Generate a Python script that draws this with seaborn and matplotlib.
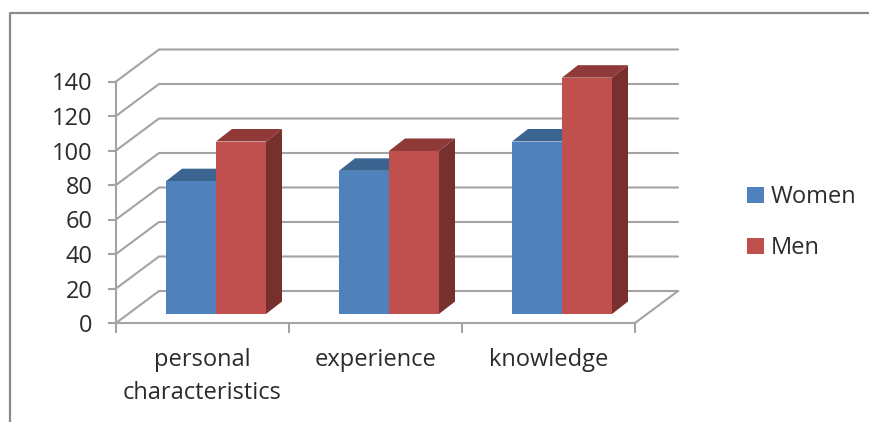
import matplotlib
matplotlib.use("Agg")
import matplotlib.pyplot as plt
from matplotlib.lines import Line2D
import pandas as pd
import seaborn as sns

categories = ["personal\ncharacteristics", "experience", "knowledge"]
women = [77, 83, 100]
men = [100, 94.5, 137]
series_names = ["Women", "Men"]
y_ticks = [0, 20, 40, 60, 80, 100, 120, 140]

W, H = 869, 422
FRONT_COL = {"Women": "#4F81BD", "Men": "#C0504D"}
TOP_COL = {"Women": "#3C6491", "Men": "#8F3A38"}
SIDE_COL = {"Women": "#2F4F75", "Men": "#78302E"}
GRID = "#a3a3a3"
TXT = "#2b2b2b"

sns.set_theme(style="white")
plt.rcParams["font.family"] = ["Open Sans", "DejaVu Sans"]
FS = 17

df = pd.DataFrame({
    "category": categories * 2,
    "value": women + men,
    "series": ["Women"] * 3 + ["Men"] * 3,
})

fig = plt.figure(figsize=(W / 100, H / 100), dpi=100, facecolor="white")
ax = fig.add_axes([116 / W, (H - 323) / H, 519 / W, 241.5 / H])

sns.barplot(data=df, x="category", y="value", hue="series", hue_order=series_names,
            palette=FRONT_COL, width=100 / 173, gap=0, saturation=1, errorbar=None,
            ax=ax, linewidth=0, legend=True)

ax.set_xlim(-0.5, 2.5)
ax.set_ylim(0, 140)
ux = 1 / 173            # data units per pixel, x
uy = 140 / 241.5        # data units per pixel, y

# walls and floor of the 3D box
wall_dx, wall_dy = 43 * ux, 32 * uy
x0, x1 = ax.get_xlim()
for v in y_ticks:
    ax.plot([x0, x0 + wall_dx, x1 + wall_dx], [v, v + wall_dy, v + wall_dy],
            color=GRID, lw=1.5, clip_on=False, zorder=1, solid_joinstyle="miter")
ax.plot([x1, x1 + wall_dx], [0, wall_dy], color=GRID, lw=1.5, clip_on=False, zorder=1)

# bars: move fronts to mid-depth, add top and side faces
base_dx, base_dy = 13.5 * ux, 9 * uy
bar_dx, bar_dy = 16 * ux, 12.5 * uy
for z, (name, container) in enumerate(zip(series_names, ax.containers)):
    for patch in container:
        patch.set_x(patch.get_x() + base_dx)
        patch.set_y(base_dy)
        patch.set_clip_on(False)
        patch.set_zorder(3 + z)
        l, r = patch.get_x(), patch.get_x() + patch.get_width()
        b, t = base_dy, base_dy + patch.get_height()
        ax.fill([l, l + bar_dx, r + bar_dx, r], [t, t + bar_dy, t + bar_dy, t],
                color=TOP_COL[name], lw=0, clip_on=False, zorder=2 + z)
        ax.fill([r, r + bar_dx, r + bar_dx, r], [b, b + bar_dy, t + bar_dy, t],
                color=SIDE_COL[name], lw=0, clip_on=False, zorder=2 + z)

# axes and ticks
for s in ["top", "right"]:
    ax.spines[s].set_visible(False)
for s in ["left", "bottom"]:
    ax.spines[s].set_color(GRID)
    ax.spines[s].set_linewidth(1.5)
    ax.spines[s].set_zorder(1.5)
ax.patch.set_alpha(0)
ax.set_xlabel("")
ax.set_ylabel("")
ax.set_yticks(y_ticks)
ax.set_xticks(range(3), categories)
ax.set_xticks([-0.5, 0.5, 1.5, 2.5], minor=True)
ax.tick_params(axis="y", length=6, width=1.5, color=GRID, pad=11, labelsize=FS, labelcolor=TXT, left=True)
ax.tick_params(axis="x", which="major", length=0, pad=18, labelsize=FS, labelcolor=TXT)
ax.tick_params(axis="x", which="minor", length=7, width=1.5, color=GRID, bottom=True)
for lab in ax.get_xticklabels():
    lab.set_linespacing(1.5)

# legend
handles, labels = ax.get_legend_handles_labels()
ax.legend(handles, labels, loc="upper left", frameon=False, fontsize=FS,
          bbox_to_anchor=(738 / W, (H - 176) / H), bbox_transform=fig.transFigure,
          handlelength=0.68, handleheight=0.68, handletextpad=0.3, labelspacing=1.13,
          labelcolor=TXT, borderpad=0.4, borderaxespad=0)

# outer frame
frame = dict(color="#8a8a8a", lw=1.6, transform=fig.transFigure)
fig.add_artist(Line2D([9.5 / W, 9.5 / W, 1], [0, (H - 12.5) / H, (H - 12.5) / H], **frame))

fig.savefig("out.png", dpi=100)
